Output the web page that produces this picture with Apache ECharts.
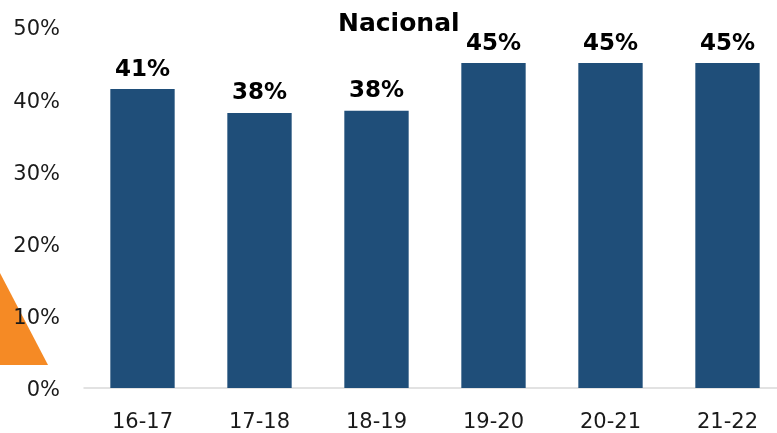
<!DOCTYPE html>
<html>
<head>
<meta charset="utf-8">
<script src="https://cdn.jsdelivr.net/npm/echarts@6/dist/echarts.min.js"></script>
<style>html,body{margin:0;padding:0;background:#fff;overflow:hidden;width:777px;height:433px;}#c{width:786px;height:433px;}</style>
</head>
<body>
<div id="c"></div>
<script>
var categories = ['16-17', '17-18', '18-19', '19-20', '20-21', '21-22'];
var values = [41.4, 38.1, 38.4, 45.0, 45.0, 45.0];
var yTicks = [0, 10, 20, 30, 40, 50];
var titleText = 'Nacional';

var chart = echarts.init(document.getElementById('c'), null, {renderer: 'canvas'});
chart.setOption({
  animation: false,
  backgroundColor: '#ffffff',
  title: {
    text: titleText,
    left: 333, top: 7,
    textStyle: {fontFamily: 'DejaVu Sans', fontWeight: 'bold', fontSize: 25, color: '#000'}
  },
  graphic: [{
    type: 'polygon', z: -1,
    shape: {points: [[0, 273], [48, 365], [0, 365]]},
    style: {fill: '#F58A25'}
  }],
  grid: {left: 84, right: 0, top: 27, bottom: 44, containLabel: false},
  xAxis: {
    type: 'category',
    data: categories,
    axisLine: {lineStyle: {color: '#d9d9d9', width: 1.5}},
    axisTick: {show: false},
    axisLabel: {fontFamily: 'DejaVu Sans', fontSize: 21, color: '#1a1a1a', margin: 24}
  },
  yAxis: {
    type: 'value',
    min: yTicks[0], max: yTicks[yTicks.length - 1], interval: 10,
    splitLine: {show: false},
    axisLine: {show: false},
    axisTick: {show: false},
    axisLabel: {fontFamily: 'DejaVu Sans', fontSize: 21, color: '#1a1a1a', margin: 24,
      verticalAlign: 'top', lineHeight: 6,
      formatter: function (v) { return v + '%'; }}
  },
  series: [{
    type: 'bar',
    data: values,
    barWidth: '55%',
    itemStyle: {color: '#1F4E79'},
    label: {
      show: true, position: 'top', distance: 8,
      fontFamily: 'DejaVu Sans', fontWeight: 'bold', fontSize: 23, color: '#000',
      formatter: function (p) { return Math.round(p.value) + '%'; }
    }
  }]
});
</script>
</body>
</html>
